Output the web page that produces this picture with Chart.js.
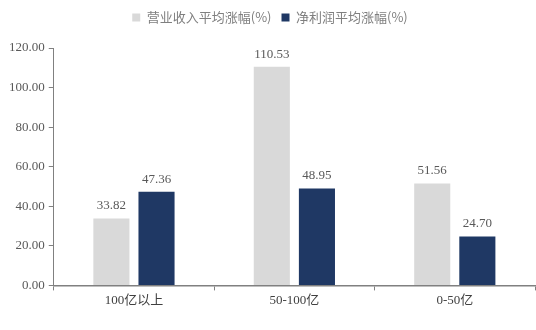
<!DOCTYPE html>
<html>
<head>
<meta charset="utf-8">
<script src="https://cdn.jsdelivr.net/npm/chart.js@4"></script>
<style>
  html, body { margin: 0; padding: 0; background: #fff; }
  #wrap { width: 536px; height: 330px; }
</style>
</head>
<body>
<div id="wrap"><canvas id="chart"></canvas></div>
<script>
const categories = ["100亿以上", "50-100亿", "0-50亿"];
const revenueGrowth = [33.82, 110.53, 51.56];
const profitGrowth = [47.36, 48.95, 24.70];
const seriesNames = ["营业收入平均涨幅(%)", "净利润平均涨幅(%)"];

const serif = "'Liberation Serif', 'Times New Roman', 'Noto Sans CJK SC', serif";
const labelColor = "#595959";

// value labels above the bars
const barLabels = {
    id: "barLabels",
    afterDatasetsDraw(chart) {
        const ctx = chart.ctx;
        ctx.save();
        ctx.font = "13px " + serif;
        ctx.fillStyle = labelColor;
        ctx.textAlign = "center";
        ctx.textBaseline = "bottom";
        chart.data.datasets.forEach((ds, i) => {
            chart.getDatasetMeta(i).data.forEach((bar, j) => {
                ctx.fillText(ds.data[j].toFixed(2), bar.x, bar.y - 6);
            });
        });
        ctx.restore();
    }
};

// push the plot area down a bit under the legend
const legendGap = {
    id: "legendGap",
    beforeInit(chart) {
        const fit = chart.legend.fit;
        chart.legend.fit = function () {
            fit.call(this);
            this.height += 14;
        };
    }
};

new Chart(document.getElementById("chart"), {
    type: "bar",
    data: {
        labels: categories,
        datasets: [
            {
                label: seriesNames[0],
                data: revenueGrowth,
                backgroundColor: "#d9d9d9",
                barPercentage: 0.8,
                categoryPercentage: 0.5625
            },
            {
                label: seriesNames[1],
                data: profitGrowth,
                backgroundColor: "#1f3864",
                barPercentage: 0.8,
                categoryPercentage: 0.5625
            }
        ]
    },
    options: {
        responsive: true,
        maintainAspectRatio: false,
        animation: false,
        layout: { padding: { top: 1, right: 1, left: 5, bottom: 20 } },
        plugins: {
            legend: {
                position: "top",
                labels: {
                    color: "#7f7f7f",
                    font: { size: 13, family: "'Noto Sans CJK SC', serif" },
                    usePointStyle: true,
                    pointStyle: "rect",
                    boxWidth: 8,
                    boxHeight: 8,
                    padding: 10
                }
            },
            tooltip: { enabled: false }
        },
        scales: {
            x: {
                grid: { drawOnChartArea: false, tickLength: 5, color: "#808080" },
                border: { color: "#808080", width: 1.5 },
                ticks: { color: "#404040", font: { size: 13, family: serif }, padding: 2 }
            },
            y: {
                min: 0,
                max: 120,
                ticks: {
                    stepSize: 20,
                    color: labelColor,
                    font: { size: 13, family: serif },
                    padding: 4,
                    callback: v => v.toFixed(2)
                },
                grid: { drawOnChartArea: false, tickLength: 5, color: "#808080" },
                border: { color: "#808080", width: 1 }
            }
        }
    },
    plugins: [barLabels, legendGap]
});
</script>
</body>
</html>
